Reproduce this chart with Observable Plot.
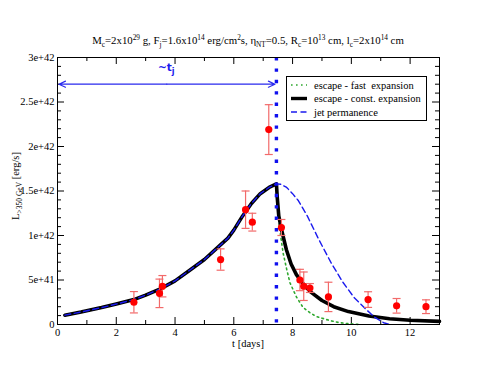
<!DOCTYPE html>
<html><head><meta charset="utf-8">
<script src="https://cdn.jsdelivr.net/npm/d3@7"></script>
<script src="https://cdn.jsdelivr.net/npm/@observablehq/plot@0.6"></script>
<style>body{margin:0;background:#fff} svg{display:block}</style>
</head><body><div id="chart"></div>
<script>
// Observations (t in days, L in erg/s, symmetric error)
const obsT   = [2.6, 3.47, 3.57, 5.55, 6.4, 6.63, 7.19, 7.62, 8.25, 8.38, 8.59, 9.22, 10.57, 11.54, 12.54];
const obsL   = [0.25e42, 0.35e42, 0.43e42, 0.73e42, 1.29e42, 1.15e42, 2.19e42, 1.09e42, 0.50e42, 0.43e42, 0.41e42, 0.31e42, 0.28e42, 0.21e42, 0.20e42];
const obsErr = [0.12e42, 0.16e42, 0.12e42, 0.12e42, 0.21e42, 0.10e42, 0.28e42, 0.09e42, 0.12e42, 0.16e42, 0.05e42, 0.165e42, 0.088e42, 0.082e42, 0.077e42];

// Common rising part (all models)
const riseT = [0.25, 0.8, 1.5, 2.0, 2.6, 3.0, 3.5, 4.0, 4.5, 5.0, 5.5, 5.8, 6.0, 6.3, 6.6, 6.9, 7.2, 7.45];
const riseL = [0.105e42, 0.14e42, 0.19e42, 0.23e42, 0.28e42, 0.33e42, 0.40e42, 0.49e42, 0.61e42, 0.73e42, 0.88e42, 0.97e42, 1.06e42, 1.22e42, 1.36e42, 1.47e42, 1.54e42, 1.58e42];

// escape - const. expansion (after peak)
const constT = [7.45, 7.48, 7.53, 7.62, 7.79, 7.95, 8.13, 8.35, 8.6, 9.0, 9.4, 9.9, 10.6, 11.3, 12.0, 13.0];
const constL = [1.58e42, 1.42e42, 1.22e42, 1.07e42, 0.84e42, 0.68e42, 0.56e42, 0.46e42, 0.37e42, 0.27e42, 0.20e42, 0.145e42, 0.095e42, 0.065e42, 0.048e42, 0.035e42];

// escape - fast expansion (after peak)
const fastT = [7.45, 7.5, 7.57, 7.68, 7.8, 7.91, 8.13, 8.36, 8.6, 8.81, 9.26, 9.6, 9.94, 10.3];
const fastL = [1.58e42, 1.28e42, 1.05e42, 0.80e42, 0.62e42, 0.47e42, 0.31e42, 0.19e42, 0.13e42, 0.09e42, 0.045e42, 0.02e42, 0.008e42, 0];

// jet permanence (after peak)
const jetT = [7.45, 7.6, 7.8, 8.0, 8.2, 8.5, 8.9, 9.3, 9.7, 10.1, 10.5, 10.8, 11.1, 11.3];
const jetL = [1.58e42, 1.575e42, 1.54e42, 1.47e42, 1.39e42, 1.22e42, 0.95e42, 0.70e42, 0.48e42, 0.30e42, 0.17e42, 0.08e42, 0.02e42, 0];

const tJet = 7.45;          // end of jet crossing
const arrowL = 2.7e42;      // level of ~t_j arrow
const arrowLabelT = 3.72;

const xMajor = [0, 2, 4, 6, 8, 10, 12];
const xMinor = [1, 3, 5, 7, 9, 11, 13];
const yMajor = [0, 0.5e42, 1e42, 1.5e42, 2e42, 2.5e42, 3e42];
const yLabels = ["0", "5e+41", "1e+42", "1.5e+42", "2e+42", "2.5e+42", "3e+42"];
const yMinor = [0.1e42,0.2e42,0.3e42,0.4e42,0.6e42,0.7e42,0.8e42,0.9e42,1.1e42,1.2e42,1.3e42,1.4e42,1.6e42,1.7e42,1.8e42,1.9e42,2.1e42,2.2e42,2.3e42,2.4e42,2.6e42,2.7e42,2.8e42,2.9e42];

const legendLabels = ["escape - fast  expansion", "escape - const. expansion", "jet permanence"];

const obs = obsT.map((t, i) => ({t, L: obsL[i], lo: obsL[i] - obsErr[i], hi: obsL[i] + obsErr[i]}));
const zip = (T, L) => T.map((t, i) => ({t, L: L[i]}));
const blackLine = zip(riseT.concat(constT.slice(1)), riseL.concat(constL.slice(1)));
const jetLine = zip(riseT.concat(jetT.slice(1)), riseL.concat(jetL.slice(1)));
const fastLine = zip(fastT, fastL);

const W = 494, H = 382, mL = 57, mR = 55, mT = 57, mB = 58;
const ph = H - mT - mB, pw = W - mL - mR;
const capSym = {draw(ctx, size) { const r = Math.sqrt(size / Math.PI); ctx.moveTo(-r, 0); ctx.lineTo(r, 0); }};
const errColor = "#f26a6a";
const green = "#2fa82f", blue = "#1a1aee";
const serif = "'Liberation Serif', 'DejaVu Serif', serif";

const chart = Plot.plot({
  width: W, height: H, marginLeft: mL, marginRight: mR, marginTop: mT, marginBottom: mB,
  x: {domain: [0, 13]},
  y: {domain: [0, 3e42]},
  style: {fontFamily: serif, fontSize: "10.5px", color: "black", background: "white"},
  marks: [
    // ticks inward on all four sides
    Plot.tickX(xMajor, {x: d => d, insetTop: ph - 7, stroke: "black"}),
    Plot.tickX(xMajor, {x: d => d, insetBottom: ph - 7, stroke: "black"}),
    Plot.tickX(xMinor, {x: d => d, insetTop: ph - 4, stroke: "black"}),
    Plot.tickX(xMinor, {x: d => d, insetBottom: ph - 4, stroke: "black"}),
    Plot.tickY(yMajor, {y: d => d, insetRight: pw - 7, stroke: "black"}),
    Plot.tickY(yMajor, {y: d => d, insetLeft: pw - 7, stroke: "black"}),
    Plot.tickY(yMinor, {y: d => d, insetRight: pw - 4, stroke: "black"}),
    Plot.tickY(yMinor, {y: d => d, insetLeft: pw - 4, stroke: "black"}),
    Plot.axisX({ticks: xMajor, tickSize: 0, tickPadding: 4, label: null, fontSize: 10.5}),
    Plot.axisY({ticks: yMajor, tickSize: 0, tickPadding: 3, label: null, fontSize: 10.5,
      tickFormat: d => yLabels[yMajor.indexOf(d)]}),
    // model curves
    Plot.line(fastLine, {x: "t", y: "L", stroke: green, strokeWidth: 1.6, strokeDasharray: "1.6,3.4"}),
    Plot.line(blackLine, {x: "t", y: "L", stroke: "black", strokeWidth: 3.6, curve: "linear"}),
    Plot.line(jetLine, {x: "t", y: "L", stroke: blue, strokeWidth: 1.4, strokeDasharray: "6,3.5"}),
    // jet-crossing end marker
    Plot.ruleX([tJet], {stroke: "#1010ee", strokeWidth: 3.4, strokeDasharray: "3.4,8"}),
    Plot.arrow([{x1: arrowLabelT, x2: 0.05}, {x1: arrowLabelT, x2: tJet - 0.05}],
      {x1: "x1", x2: "x2", y1: arrowL, y2: arrowL, stroke: "#2a2aee", strokeWidth: 1.2, headLength: 9, headAngle: 50}),
    // observations
    Plot.ruleX(obs, {x: "t", y1: "lo", y2: "hi", stroke: errColor, strokeWidth: 1.2}),
    Plot.dot(obs, {x: "t", y: "hi", symbol: capSym, r: 4, stroke: errColor, strokeWidth: 1.2, fill: "none"}),
    Plot.dot(obs, {x: "t", y: "lo", symbol: capSym, r: 4, stroke: errColor, strokeWidth: 1.2, fill: "none"}),
    Plot.dot(obs, {x: "t", y: "L", r: 3.6, fill: "#ff0000", stroke: "none"}),
    Plot.frame({stroke: "black", strokeWidth: 1})
  ]
});
document.getElementById("chart").appendChild(chart);

// annotations, labels and legend
const svg = d3.select(chart);
function centre(textSel) {
  const w = textSel.node().getComputedTextLength();
  textSel.attr("x", +textSel.attr("x") - w / 2);
}

// title
const title = svg.append("text").attr("x", 248).attr("y", 44).attr("text-anchor", "start")
  .attr("font-family", serif).attr("font-size", "10.8px").attr("fill", "black");
const parts = [
  ["M", "sub", "c"], ["=2x10", "sup", "29"], [" g, F", "sub", "j"], ["=1.6x10", "sup", "14"],
  [" erg/cm", "sup", "2"], ["s, η", "sub", "NT"], ["=0.5, R", "sub", "c"], ["=10", "sup", "13"],
  [" cm, l", "sub", "c"], ["=2x10", "sup", "14"], [" cm", null, null]
];
let shift = 0;
for (const [base, kind, s] of parts) {
  title.append("tspan").attr("dy", -shift).text(base); shift = 0;
  if (kind) {
    const d = kind === "sub" ? 3 : -4;
    title.append("tspan").attr("dy", d).attr("font-size", "7.3px").text(s);
    shift = d;
  }
}
centre(title);

// x label
svg.append("text").attr("x", 248).attr("y", 346.5).attr("text-anchor", "middle")
  .attr("font-family", serif).attr("font-size", "10.5px").attr("fill", "black").text("t [days]");

// y label
const yl = svg.append("text").attr("x", -186).attr("y", 19).attr("transform", "rotate(-90)").attr("text-anchor", "start")
  .attr("font-family", serif).attr("font-size", "10.5px").attr("fill", "black");
yl.append("tspan").text("L");
yl.append("tspan").attr("dy", 3).attr("font-size", "7.5px").text(">350 GeV");
yl.append("tspan").attr("dy", -3).text(" [erg/s]");
centre(yl);

// ~t_j label
const xs = chart.scale("x");
const tl = svg.append("text").attr("x", xs.apply(arrowLabelT)).attr("y", 71).attr("text-anchor", "start")
  .attr("font-family", "'DejaVu Sans', sans-serif").attr("font-weight", "bold").attr("font-size", "10.5px").attr("fill", blue);
tl.append("tspan").text("~t");
tl.append("tspan").attr("dy", 3).attr("font-size", "8px").text("j");
centre(tl);

// legend
const lg = svg.append("g").attr("font-family", serif).attr("font-size", "10.5px").attr("text-anchor", "start");
lg.append("rect").attr("x", 286.5).attr("y", 76.5).attr("width", 140).attr("height", 44).attr("fill", "white").attr("stroke", "black");
const styles = [[green, 1.6, "1.6,3.4", 85], ["black", 3.4, null, 98.5], [blue, 1.4, "6,3.5", 112]];
legendLabels.forEach((label, i) => {
  const [c, w, da, y] = styles[i];
  const ln = lg.append("line").attr("x1", 291).attr("x2", 307).attr("y1", y).attr("y2", y).attr("stroke", c).attr("stroke-width", w);
  if (da) ln.attr("stroke-dasharray", da);
  lg.append("text").attr("x", 314).attr("y", y + 3.5).attr("fill", "black").text(label);
});
</script>
</body></html>
